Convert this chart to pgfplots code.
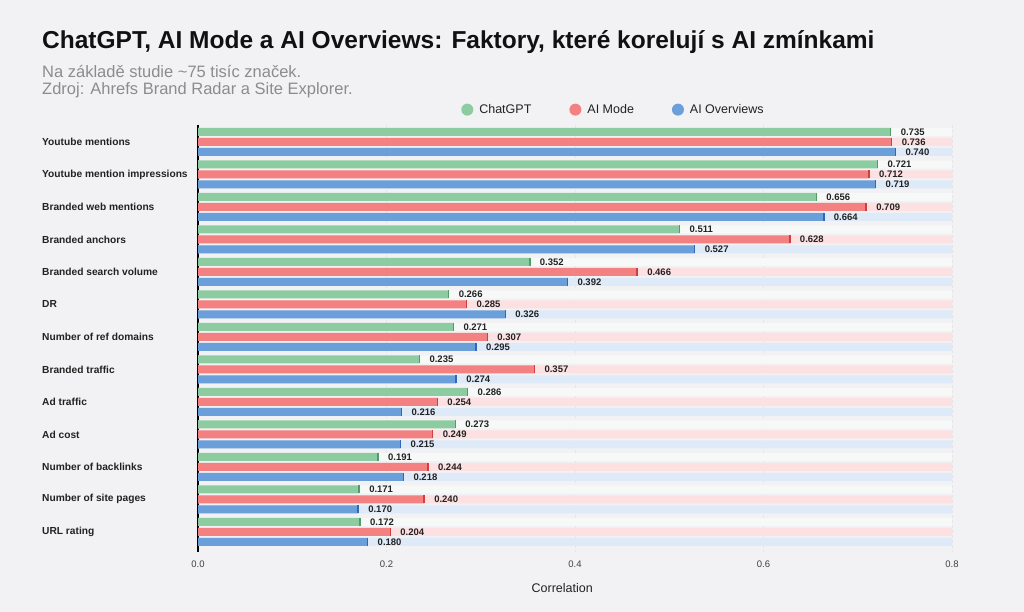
\documentclass[border=0pt]{standalone}
\usepackage{fontspec}
\setmainfont{Liberation Sans}
\usepackage{pgfplots}
\usepackage{pgfplotstable}
\pgfplotsset{compat=1.18}

\definecolor{bg}{HTML}{F2F2F4}
\definecolor{titlec}{HTML}{111111}
\definecolor{subc}{HTML}{8C8C8C}
\definecolor{txt}{HTML}{222222}
\definecolor{cgpt}{HTML}{8DCBA0}
\definecolor{cmode}{HTML}{F38181}
\definecolor{cov}{HTML}{6A9FDA}
\definecolor{cgptcap}{HTML}{4E9E68}
\definecolor{cmodecap}{HTML}{D23E3E}
\definecolor{covcap}{HTML}{2F68B8}
\definecolor{tgpt}{HTML}{F7F8F8}
\definecolor{tmode}{HTML}{FDE0E2}
\definecolor{tov}{HTML}{DEEAF8}

% y = category position (top to bottom), track = end of the light background bar
\pgfplotstableread{
y  chatgpt aimode aiov  track
0  0.735   0.736  0.740 0.8
1  0.721   0.712  0.719 0.8
2  0.656   0.709  0.664 0.8
3  0.511   0.628  0.527 0.8
4  0.352   0.466  0.392 0.8
5  0.266   0.285  0.326 0.8
6  0.271   0.307  0.295 0.8
7  0.235   0.357  0.274 0.8
8  0.286   0.254  0.216 0.8
9  0.273   0.249  0.215 0.8
10 0.191   0.244  0.218 0.8
11 0.171   0.240  0.170 0.8
12 0.172   0.204  0.180 0.8
}\datatable

\begin{document}
\begin{tikzpicture}[x=1pt,y=1pt]
\fill[bg] (0,0) rectangle (1024,612);
\node[anchor=base west, inner sep=0, text=titlec, font=\fontsize{24.5}{28}\selectfont\bfseries] at (42,612-49) {ChatGPT, AI Mode a AI Overviews: Faktory, které korelují s AI zmínkami};
\node[anchor=base west, inner sep=0, text=subc, font=\fontsize{16.5}{19}\selectfont] at (42,612-78) {Na základě studie \char"007E 75 tisíc značek.};
\node[anchor=base west, inner sep=0, text=subc, font=\fontsize{16.5}{19}\selectfont] at (42,612-95) {Zdroj: Ahrefs Brand Radar a Site Explorer.};

\begin{axis}[
  at={(198pt,60pt)}, anchor=south west,
  scale only axis, width=754pt, height=427pt,
  xmin=0, xmax=0.8,
  ymin=-0.52, ymax=12.62, y dir=reverse,
  clip=false,
  axis x line*=bottom, x axis line style={draw=none},
  axis y line*=left, y axis line style={-, draw=black, line width=1.1pt},
  xtick={0,0.2,0.4,0.6,0.8},
  ytick={0,...,12},
  yticklabels={Youtube mentions, Youtube mention impressions, Branded web mentions, Branded anchors, Branded search volume, DR, Number of ref domains, Branded traffic, Ad traffic, Ad cost, Number of backlinks, Number of site pages, URL rating},
  major tick length=0pt,
  xmajorgrids,
  major grid style={densely dashed, draw=black!10, line width=0.5pt},
  /pgf/number format/assume math mode=true,
  xticklabel style={font=\fontsize{9.5}{11}\selectfont, text=black!75, yshift=-5pt,
    /pgf/number format/fixed, /pgf/number format/zerofill, /pgf/number format/precision=1},
  yticklabel style={anchor=west, inner sep=0pt, xshift=-156pt, font=\fontsize{10.2}{12}\selectfont\bfseries, text=txt},
  xlabel={Correlation},
  xlabel style={font=\fontsize{12.5}{14}\selectfont, text=txt, at={(axis description cs:0.483,0)}, anchor=center, yshift=-36pt},
  legend columns=3,
  legend style={at={(axis description cs:0.551,1.036)}, anchor=center, draw=none, fill=none,
    font=\fontsize{12.5}{14}\selectfont, text=txt,
    /tikz/every even column/.append style={column sep=36pt},
    /tikz/every odd column/.append style={column sep=4pt}},
  legend cell align=left,
]
% light background tracks
\addplot[xbar, bar width=8pt, bar shift=0pt, fill=tgpt, draw=none, forget plot]
  table[x=track, y expr=\thisrow{y}-0.31] {\datatable};
\addplot[xbar, bar width=8pt, bar shift=0pt, fill=tmode, draw=none, forget plot]
  table[x=track, y=y] {\datatable};
\addplot[xbar, bar width=8pt, bar shift=0pt, fill=tov, draw=none, forget plot]
  table[x=track, y expr=\thisrow{y}+0.31] {\datatable};
% bars
\addplot[xbar, bar width=8pt, bar shift=0pt, fill=cgpt, draw=none,
  legend image code/.code={\fill[cgpt] (0pt,0pt) circle (6pt);}]
  table[x=chatgpt, y expr=\thisrow{y}-0.31] {\datatable};
\addlegendentry{ChatGPT}
\addplot[xbar, bar width=8pt, bar shift=0pt, fill=cmode, draw=none,
  legend image code/.code={\fill[cmode] (0pt,0pt) circle (6pt);}]
  table[x=aimode, y=y] {\datatable};
\addlegendentry{AI Mode}
\addplot[xbar, bar width=8pt, bar shift=0pt, fill=cov, draw=none,
  legend image code/.code={\fill[cov] (0pt,0pt) circle (6pt);}]
  table[x=aiov, y expr=\thisrow{y}+0.31] {\datatable};
\addlegendentry{AI Overviews}
% end caps and value labels
\pgfplotsset{capstyle/.style={only marks, mark=|, mark size=4pt, forget plot,
  point meta=x, nodes near coords,
  nodes near coords style={anchor=west, xshift=6pt, font=\fontsize{9.5}{11}\selectfont\bfseries, text=txt,
    /pgf/number format/fixed, /pgf/number format/zerofill, /pgf/number format/precision=3}}}
\addplot[capstyle, mark options={line width=1.5pt, draw=cgptcap}]
  table[x=chatgpt, y expr=\thisrow{y}-0.31] {\datatable};
\addplot[capstyle, mark options={line width=1.5pt, draw=cmodecap}]
  table[x=aimode, y=y] {\datatable};
\addplot[capstyle, mark options={line width=1.5pt, draw=covcap}]
  table[x=aiov, y expr=\thisrow{y}+0.31] {\datatable};
\end{axis}
\end{tikzpicture}
\end{document}
